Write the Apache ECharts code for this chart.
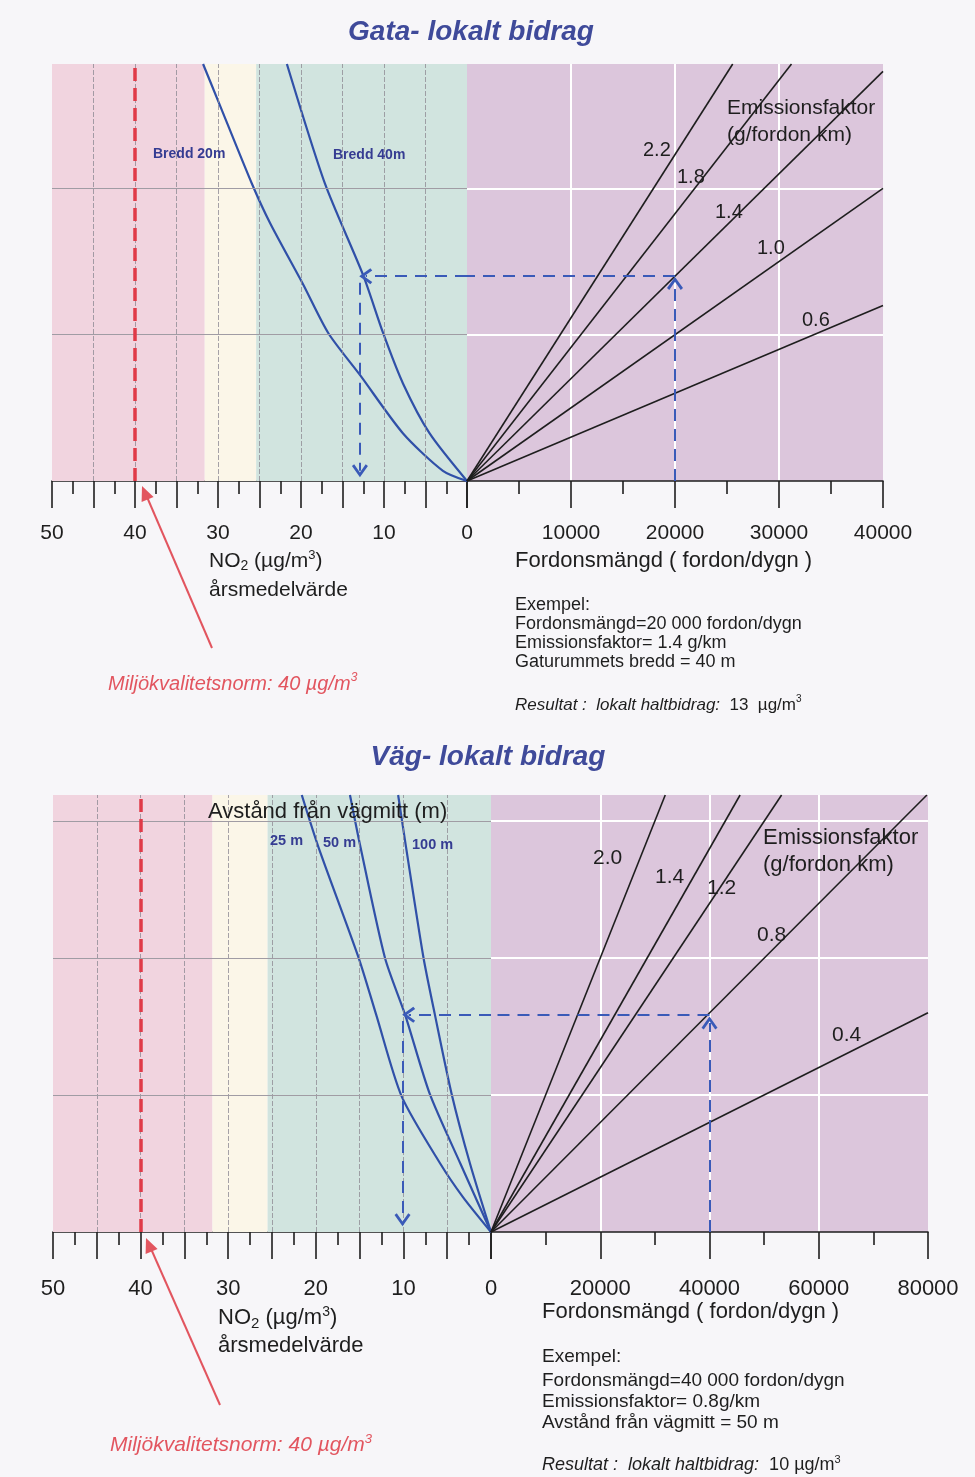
<!DOCTYPE html>
<html><head><meta charset="utf-8">
<script src="https://cdn.jsdelivr.net/npm/echarts@6/dist/echarts.min.js"></script>
<style>html,body{margin:0;padding:0;background:#f7f6f9;}#c{width:975px;height:1477px;}</style>
</head><body><div id="c"></div>
<script>
// ---------- data ----------
const no2Max = 50;
const normValue = 40;
const no2GridValues = [5, 10, 15, 20, 25, 30, 35, 40, 45];

// Gata (street canyon)
const gataTrafficMax = 40000;
const gataEmissionMax = 57000;
const gataEmissionGrid = [20000, 40000];
const gataBandEdges = [31.6, 25.4];
const gataEFLabels = ['2.2', '1.8', '1.4', '1.0', '0.6'];
const gataEFEnds = [[25550, 57000], [31200, 57000], [40000, 56000], [40000, 40000], [40000, 24000]];
const bredd20 = [[0, 0], [2.9, 1400], [7.7, 6500], [12.9, 14500], [16.7, 20200], [19.8, 27000], [23.7, 35200], [25.9, 40600], [30.0, 52000], [31.8, 57000]];
const bredd40 = [[0, 0], [4.5, 6500], [7.7, 13300], [10.1, 20200], [12.5, 28100], [17.1, 40600], [21.7, 57000]];
const gataExample = [20000, 28000, 12.9]; // traffic, emission, NO2 result

// Väg (road)
const vagTrafficMax = 80000;
const vagEmissionMax = 63800;
const vagEmissionGrid = [20000, 40000, 60000];
const vagBandEdges = [31.8, 25.5];
const vagEFLabels = ['2.0', '1.4', '1.2', '0.8', '0.4'];
const vagEFEnds = [[31900, 63800], [45600, 63800], [53200, 63800], [79800, 63800], [80000, 32000]];
const dist25 = [[0, 0], [3.2, 5100], [5.8, 10000], [10.2, 19800], [13.1, 31700], [15.1, 40000], [19.7, 56200], [21.6, 63800]];
const dist50 = [[0, 0], [3.5, 10000], [7.0, 20200], [9.8, 31700], [12.1, 40000], [14.9, 56200], [16.1, 63800]];
const dist100 = [[0, 0], [2.4, 10000], [4.5, 20200], [6.4, 31700], [7.7, 40000], [9.7, 56200], [10.6, 63800]];
const vagExample = [40000, 31700, 10.1];

// ---------- styles ----------
const FONT = '"Liberation Sans", Arial, Helvetica, sans-serif';
const INK = '#1e1e1e';
const PINK = '#f1d4df', CREAM = '#fbf6e8', GREEN = '#d1e4df', PURPLE = '#dcc6dc';
const CURVE = '#3050a8', ARROW = '#3a5ab8', RED = '#e03a48', RED2 = '#e2555f';
const TITLE = '#3f4a9a', LBL = '#353c92';
const GRAYLINE = '#a09ca4';
const CHEVRON = 'path://M5,0 L10,8.4 L8.6,9.8 L5,3.6 L1.4,9.8 L0,8.4 Z';

function leftX(gi, fs, margin) {
  return {
    type: 'value', gridIndex: gi, min: 0, max: no2Max, interval: 5, inverse: true,
    axisLine: { show: true, onZero: false, lineStyle: { color: INK, width: 1.6 } },
    axisTick: { show: true, length: 27, lineStyle: { color: INK, width: 1.6 } },
    minorTick: { show: true, splitNumber: 2, length: 13, lineStyle: { color: INK, width: 1.6 } },
    axisLabel: { margin: margin, fontSize: fs, fontFamily: FONT, color: INK,
      formatter: v => (v % 10 === 0 ? String(v) : '') },
    splitLine: { show: false },
    minorSplitLine: { show: false }
  };
}
function rightX(gi, max, interval, fs, margin) {
  return {
    type: 'value', gridIndex: gi, min: 0, max: max, interval: interval,
    axisLine: { show: true, onZero: false, lineStyle: { color: INK, width: 1.6 } },
    axisTick: { show: true, length: 27, lineStyle: { color: INK, width: 1.6 } },
    minorTick: { show: true, splitNumber: 2, length: 13, lineStyle: { color: INK, width: 1.6 } },
    axisLabel: { margin: margin, fontSize: fs, fontFamily: FONT, color: INK,
      formatter: v => (v === 0 ? '' : String(v)) },
    splitLine: { show: true, showMinLine: false, showMaxLine: false, lineStyle: { color: '#ffffff', width: 2 } },
    minorSplitLine: { show: false }
  };
}
function yAx(gi, max, showSplit) {
  return {
    type: 'value', gridIndex: gi, min: 0, max: max, interval: 20000,
    axisLine: { show: false }, axisTick: { show: false }, axisLabel: { show: false },
    splitLine: { show: showSplit, showMinLine: false, showMaxLine: false, lineStyle: { color: '#ffffff', width: 2 } }
  };
}
function bandSeries(ai, edges) {
  return {
    type: 'line', xAxisIndex: ai, yAxisIndex: ai, z: -1, data: [[0, 0]], symbol: 'none', showSymbol: false,
    lineStyle: { opacity: 0 }, silent: true,
    markArea: { silent: true, data: [
      [{ xAxis: no2Max, itemStyle: { color: PINK, opacity: 1 } }, { xAxis: edges[0] }],
      [{ xAxis: edges[0], itemStyle: { color: CREAM, opacity: 1 } }, { xAxis: edges[1] }],
      [{ xAxis: edges[1], itemStyle: { color: GREEN, opacity: 1 } }, { xAxis: 0 }]
    ] }
  };
}
function gridSeries(ai, yGrid) {
  return {
    type: 'line', xAxisIndex: ai, yAxisIndex: ai, z: 1, data: [[0, 0]], symbol: 'none', showSymbol: false,
    lineStyle: { opacity: 0 }, silent: true,
    markLine: { silent: true, symbol: ['none', 'none'], label: { show: false }, animation: false,
      data: [
        ...no2GridValues.map(v => ({ xAxis: v, lineStyle: { color: '#8f8c94', width: 0.8, type: [5, 2] } })),
        ...yGrid.map(v => ({ yAxis: v, lineStyle: { color: GRAYLINE, width: 1, type: 'solid' } }))
      ] }
  };
}
function curve(ai, data) {
  return { type: 'line', xAxisIndex: ai, yAxisIndex: ai, data: data, symbol: 'none', showSymbol: false,
    smooth: 0.25, lineStyle: { color: CURVE, width: 2.2 }, z: 3, silent: true };
}
function efLine(ai, end) {
  return { type: 'line', xAxisIndex: ai, yAxisIndex: ai, data: [[0, 0], end], symbol: 'none', showSymbol: false,
    lineStyle: { color: INK, width: 1.6 }, z: 3, silent: true };
}
function annot(ai, lines) {
  return { type: 'line', xAxisIndex: ai, yAxisIndex: ai, data: [[0, 0]], symbol: 'none', showSymbol: false,
    lineStyle: { opacity: 0 }, z: 5, silent: true,
    markLine: { silent: true, symbol: ['none', 'none'], label: { show: false }, animation: false,
      lineStyle: { color: ARROW, width: 2, type: [12, 8] }, data: lines } };
}
function arrowEnd(x, y) { return { coord: [x, y], symbol: CHEVRON, symbolSize: [16, 13] }; }

function leftAnnots(ex, emLow) {
  return [
    { xAxis: normValue, lineStyle: { color: RED, width: 3.5, type: [13, 7] } },
    [{ coord: [0, ex[1]] }, arrowEnd(ex[2] - 0.7, ex[1])],
    [{ coord: [ex[2], ex[1] - 900] }, arrowEnd(ex[2], emLow)]
  ];
}
function rightAnnots(ex, emHigh) {
  return [
    [{ coord: [ex[0], ex[1]] }, { coord: [0, ex[1]] }],
    [{ coord: [ex[0], 0] }, arrowEnd(ex[0], emHigh)]
  ];
}

// ---------- graphic text helpers ----------
function T(x, y, text, font, fill, align) {
  return { type: 'text', x: x, y: y, silent: true, z: 50,
    style: { text: text, font: font, fill: fill || INK, align: align || 'left', textAlign: align || 'left',
      verticalAlign: 'middle', textVerticalAlign: 'middle' } };
}
function R(x, y, text, rich) {
  return { type: 'text', x: x, y: y, silent: true, z: 50,
    style: { text: text, rich: rich, align: 'left', verticalAlign: 'middle', fill: INK } };
}
function no2Rich(fs) {
  return {
    a: { fontSize: fs, fontFamily: FONT, fill: INK, color: INK, lineHeight: fs + 4, verticalAlign: 'middle' },
    s: { fontSize: Math.round(fs * 0.66), fontFamily: FONT, fill: INK, color: INK, lineHeight: Math.round(fs * 0.66), verticalAlign: 'bottom' },
    p: { fontSize: Math.round(fs * 0.62), fontFamily: FONT, fill: INK, color: INK, lineHeight: Math.round(fs * 0.62), verticalAlign: 'top' }
  };
}
function resRich(fs) {
  return {
    i: { fontSize: fs, fontStyle: 'italic', fontFamily: FONT, fill: INK, color: INK, lineHeight: fs + 4, verticalAlign: 'middle' },
    n: { fontSize: fs, fontFamily: FONT, fill: INK, color: INK, lineHeight: fs + 4, verticalAlign: 'middle' },
    p: { fontSize: Math.round(fs * 0.6), fontFamily: FONT, fill: INK, color: INK, lineHeight: Math.round(fs * 0.6), verticalAlign: 'top' }
  };
}
function normRich(fs) {
  return {
    a: { fontSize: fs, fontStyle: 'italic', fontFamily: FONT, fill: RED2, color: RED2, lineHeight: fs + 4, verticalAlign: 'middle' },
    p: { fontSize: Math.round(fs * 0.62), fontStyle: 'italic', fontFamily: FONT, fill: RED2, color: RED2, lineHeight: Math.round(fs * 0.62), verticalAlign: 'top' }
  };
}

const gataEFPos = [[643, 150], [677, 177], [715, 212], [757, 248], [802, 320]];
const vagEFPos = [[593, 858], [655, 877], [707, 888], [757, 935], [832, 1035]];

const graphic = [
  T(471, 32, 'Gata- lokalt bidrag', 'italic bold 28px ' + FONT, TITLE, 'center'),
  T(153, 154, 'Bredd 20m', 'bold 14px ' + FONT, LBL),
  T(333, 155, 'Bredd 40m', 'bold 14px ' + FONT, LBL),
  T(727, 108, 'Emissionsfaktor', '21px ' + FONT, INK),
  T(727, 135, '(g/fordon km)', '21px ' + FONT, INK),
  ...gataEFLabels.map((l, i) => T(gataEFPos[i][0], gataEFPos[i][1], l, '20px ' + FONT, INK)),
  R(209, 561, '{a|NO}{s|2}{a| (µg/m}{p|3}{a|)}', no2Rich(21)),
  T(209, 590, 'årsmedelvärde', '21px ' + FONT, INK),
  T(515, 561, 'Fordonsmängd ( fordon/dygn )', '22px ' + FONT, INK),
  T(515, 605, 'Exempel:', '18px ' + FONT, INK),
  T(515, 624, 'Fordonsmängd=20 000 fordon/dygn', '18px ' + FONT, INK),
  T(515, 643, 'Emissionsfaktor= 1.4 g/km', '18px ' + FONT, INK),
  T(515, 662, 'Gaturummets bredd = 40 m', '18px ' + FONT, INK),
  R(515, 705, '{i|Resultat :  lokalt haltbidrag:}{n|  13  µg/m}{p|3}', resRich(17)),
  R(108, 684, '{a|Miljökvalitetsnorm: 40 µg/m}{p|3}', normRich(20)),
  { type: 'line', silent: true, z: 50, shape: { x1: 212, y1: 648, x2: 144, y2: 490 }, style: { stroke: RED2, lineWidth: 2 } },
  { type: 'polygon', silent: true, z: 50, shape: { points: [[142, 486], [153.6, 497], [141.6, 502]] }, style: { fill: RED2 } },

  T(488, 757, 'Väg- lokalt bidrag', 'italic bold 28px ' + FONT, TITLE, 'center'),
  T(208, 812, 'Avstånd från vägmitt (m)', '22px ' + FONT, INK),
  T(270, 841, '25 m', 'bold 14.5px ' + FONT, LBL),
  T(323, 843, '50 m', 'bold 14.5px ' + FONT, LBL),
  T(412, 845, '100 m', 'bold 14.5px ' + FONT, LBL),
  T(763, 838, 'Emissionsfaktor', '22px ' + FONT, INK),
  T(763, 865, '(g/fordon km)', '22px ' + FONT, INK),
  ...vagEFLabels.map((l, i) => T(vagEFPos[i][0], vagEFPos[i][1], l, '21px ' + FONT, INK)),
  R(218, 1318, '{a|NO}{s|2}{a| (µg/m}{p|3}{a|)}', no2Rich(22)),
  T(218, 1346, 'årsmedelvärde', '22px ' + FONT, INK),
  T(542, 1312, 'Fordonsmängd ( fordon/dygn )', '22px ' + FONT, INK),
  T(542, 1357, 'Exempel:', '19px ' + FONT, INK),
  T(542, 1381, 'Fordonsmängd=40 000 fordon/dygn', '19px ' + FONT, INK),
  T(542, 1402, 'Emissionsfaktor= 0.8g/km', '19px ' + FONT, INK),
  T(542, 1423, 'Avstånd från vägmitt = 50 m', '19px ' + FONT, INK),
  R(542, 1465, '{i|Resultat :  lokalt haltbidrag:}{n|  10 µg/m}{p|3}', resRich(18)),
  R(110, 1445, '{a|Miljökvalitetsnorm: 40 µg/m}{p|3}', normRich(21)),
  { type: 'line', silent: true, z: 50, shape: { x1: 220, y1: 1405, x2: 148, y2: 1242 }, style: { stroke: RED2, lineWidth: 2 } },
  { type: 'polygon', silent: true, z: 50, shape: { points: [[146, 1238], [157.6, 1249], [145.6, 1254]] }, style: { fill: RED2 } }
];

const option = {
  backgroundColor: '#f7f6f9',
  animation: false,
  grid: [
    { left: 52, top: 64, width: 415, height: 417, show: false },
    { left: 467, top: 64, width: 416, height: 417, show: true, backgroundColor: PURPLE, borderWidth: 0 },
    { left: 53, top: 795, width: 438, height: 437, show: false },
    { left: 491, top: 795, width: 437, height: 437, show: true, backgroundColor: PURPLE, borderWidth: 0 }
  ],
  xAxis: [
    leftX(0, 21, 42),
    rightX(1, gataTrafficMax, 10000, 21, 42),
    leftX(2, 22, 46),
    rightX(3, vagTrafficMax, 20000, 22, 46)
  ],
  yAxis: [
    yAx(0, gataEmissionMax, false),
    yAx(1, gataEmissionMax, true),
    yAx(2, vagEmissionMax, false),
    yAx(3, vagEmissionMax, true)
  ],
  series: [
    bandSeries(0, gataBandEdges),
    bandSeries(2, vagBandEdges),
    gridSeries(0, gataEmissionGrid),
    gridSeries(2, vagEmissionGrid),
    curve(0, bredd20),
    curve(0, bredd40),
    ...gataEFEnds.map(e => efLine(1, e)),
    curve(2, dist25),
    curve(2, dist50),
    curve(2, dist100),
    ...vagEFEnds.map(e => efLine(3, e)),
    annot(0, leftAnnots(gataExample, 1400)),
    annot(1, rightAnnots(gataExample, 27000)),
    annot(2, leftAnnots(vagExample, 1800)),
    annot(3, rightAnnots(vagExample, 30500))
  ],
  graphic: graphic
};

const chart = echarts.init(document.getElementById('c'), null, { renderer: 'canvas' });
chart.setOption(option);
</script></body></html>
